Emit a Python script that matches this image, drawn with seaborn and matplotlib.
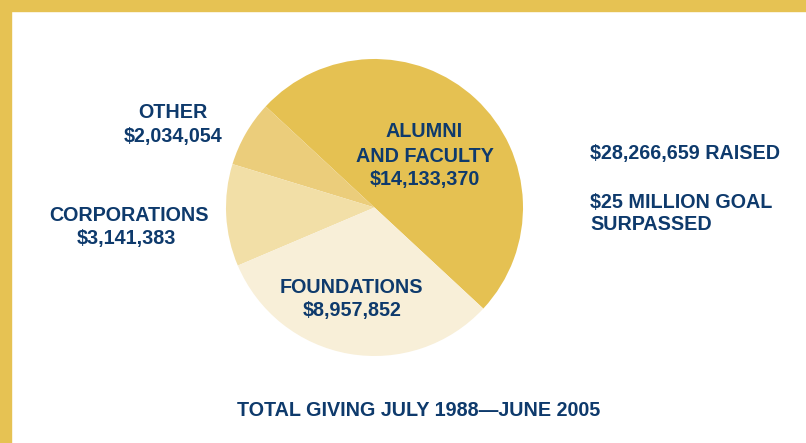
import matplotlib
matplotlib.use("Agg")
import matplotlib.pyplot as plt
import seaborn as sns
from matplotlib.patches import Rectangle

# data
categories = ["ALUMNI AND FACULTY", "OTHER", "CORPORATIONS", "FOUNDATIONS"]
amounts = [14133370, 2034054, 3141383, 8957852]
slice_colors = ["#E5C152", "#EBCD7B", "#F2DFA7", "#F8EFD8"]
total_raised = "$28,266,659"

navy = "#0E3A6C"
gold = "#E6C253"

sns.set_theme(style="white")
plt.rcParams["font.family"] = ["Liberation Sans", "DejaVu Sans"]

W, H = 806, 443
fig = plt.figure(figsize=(W / 100, H / 100), dpi=100)
fig.patch.set_facecolor("white")

# frame: gold bar along the top and left edge
fig.patches.append(Rectangle((0, 1 - 11 / H), 1, 11 / H, transform=fig.transFigure,
                             color=gold, zorder=0))
fig.patches.append(Rectangle((0, 0), 11 / W, 1, transform=fig.transFigure,
                             color=gold, zorder=0))

# pie centred at (374.5, 207.5) px, radius 148.5 px
cx, cy, r = 374.5, 207.5, 148.5
ax = fig.add_axes([(cx - r) / W, 1 - (cy + r) / H, 2 * r / W, 2 * r / H])
ax.pie(amounts, colors=slice_colors, startangle=-42.9, counterclock=True,
       radius=1, wedgeprops=dict(linewidth=0))
ax.set_xlim(-1, 1)
ax.set_ylim(-1, 1)
ax.set_aspect("equal")
ax.axis("off")


def fmt(v):
    return "${:,}".format(v)


def label(x, y, s, ha="center"):
    fig.text(x / W, 1 - y / H, s, ha=ha, va="baseline", color=navy,
             fontsize=14.2, fontweight="bold")


# slice labels: (x centre, baseline) in px
label(424, 137.3, "ALUMNI")
label(425, 161.5, "AND FACULTY")
label(425, 185, fmt(amounts[0]))

label(173, 118.5, categories[1])
label(173, 142, fmt(amounts[1]))

label(128.5, 221, categories[2])
label(126.5, 244, fmt(amounts[2]))

label(351, 293, categories[3])
label(352, 316, fmt(amounts[3]))

# side notes
label(590, 158.5, total_raised + " RAISED", ha="left")
label(590, 207.5, "$25 MILLION GOAL", ha="left")
label(590, 230.5, "SURPASSED", ha="left")

label(419, 416, "TOTAL GIVING JULY 1988\u2014JUNE 2005")

fig.savefig("out.png", dpi=100)
